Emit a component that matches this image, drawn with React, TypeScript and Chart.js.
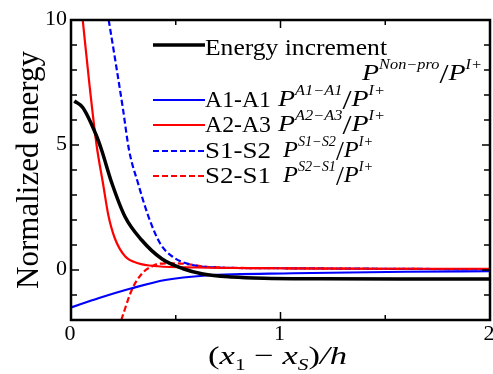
import React, { useEffect, useRef } from "react";
import { Chart, registerables } from "chart.js";

Chart.register(...registerables);

// ---- data ----
const energyX = [0.016, 0.056, 0.12, 0.146, 0.194, 0.258, 0.337, 0.433, 0.535, 0.63, 0.77, 0.92, 1.2, 1.6, 2.0];
const energyY = [6.76, 6.5, 5.4, 4.8, 3.5, 2.13, 1.2, 0.45, 0.05, -0.16, -0.28, -0.33, -0.35, -0.36, -0.36];

const a1a1X = [0.0, 0.134, 0.29, 0.45, 0.645, 1.06, 1.6, 2.0];
const a1a1Y = [-1.5, -1.12, -0.73, -0.4, -0.22, -0.13, -0.07, -0.05];

const a2a3X = [0.056, 0.087, 0.122, 0.154, 0.178, 0.21, 0.258, 0.32, 0.415, 0.6, 1.0, 1.5, 2.0];
const a2a3Y = [10, 7.5, 5.0, 3.4, 2.2, 1.25, 0.55, 0.27, 0.15, 0.1, 0.07, 0.05, 0.05];

const s1s2X = [0.18, 0.215, 0.247, 0.277, 0.32, 0.37, 0.425, 0.485, 0.58, 0.7, 1.0, 2.0];
const s1s2Y = [10, 8.2, 6.5, 4.8, 3.47, 2.13, 1.07, 0.53, 0.2, 0.1, 0.07, 0.03];

const s2s1X = [0.24, 0.29, 0.34, 0.39, 0.42, 0.5, 0.66, 1.0, 2.0];
const s2s1Y = [-2, -0.8, -0.13, 0.16, 0.25, 0.27, 0.12, 0.07, 0.03];

const seriesNames = ["Energy increment", "A1-A1", "A2-A3", "S1-S2", "S2-S1"];
const seriesSups = ["Non\u2212pro", "A1\u2212A1", "A2\u2212A3", "S1\u2212S2", "S2\u2212S1"];
const seriesColors = ["#000000", "#0000ff", "#ff0000", "#0000ff", "#ff0000"];
const seriesDashed = [false, false, false, true, true];

const xTicks = [0, 0.5, 1, 1.5, 2];
const xTickLabels = [0, 1, 2];
const yTicks = [-2, -1, 0, 1, 2, 3, 4, 5, 6, 7, 8, 9, 10];
const yTickLabels = [0, 5, 10];

const SERIF = '"Liberation Serif"';

function pts(xs: number[], ys: number[]) {
  return xs.map((x, i) => ({ x, y: ys[i] }));
}

type Piece = { t: string; font: string; dy?: number };

function drawRun(ctx: CanvasRenderingContext2D, pieces: Piece[], x: number, y: number, targetW?: number) {
  const widths = pieces.map((p) => {
    ctx.font = p.font;
    return ctx.measureText(p.t).width;
  });
  const total = widths.reduce((a, b) => a + b, 0);
  const sx = targetW ? targetW / total : 1;
  ctx.save();
  ctx.translate(x, y);
  ctx.scale(sx, 1);
  ctx.textAlign = "left";
  ctx.textBaseline = "alphabetic";
  let cx = 0;
  pieces.forEach((p, i) => {
    ctx.font = p.font;
    ctx.fillText(p.t, cx, p.dy || 0);
    cx += widths[i];
  });
  ctx.restore();
}

const decorPlugin = {
  id: "decor",
  afterDatasetsDraw(chart: any) {
    const ctx: CanvasRenderingContext2D = chart.ctx;
    const xs = chart.scales.x;
    const ys = chart.scales.y;
    const { left, right, top, bottom } = chart.chartArea;
    ctx.save();
    ctx.fillStyle = "#000";
    ctx.strokeStyle = "#000";

    // frame
    ctx.lineWidth = 2.5;
    ctx.strokeRect(left, top, right - left, bottom - top);

    // ticks
    ctx.lineWidth = 1.5;
    xTicks.forEach((v) => {
      const px = xs.getPixelForValue(v);
      const len = xTickLabels.includes(v) ? 8 : 5;
      ctx.beginPath();
      ctx.moveTo(px, bottom);
      ctx.lineTo(px, bottom - len);
      ctx.moveTo(px, top);
      ctx.lineTo(px, top + len);
      ctx.stroke();
    });
    yTicks.forEach((v) => {
      const py = ys.getPixelForValue(v);
      const len = yTickLabels.includes(v) ? 8 : 6;
      ctx.beginPath();
      ctx.moveTo(left, py);
      ctx.lineTo(left + len, py);
      ctx.moveTo(right, py);
      ctx.lineTo(right - len, py);
      ctx.stroke();
    });

    // tick labels
    ctx.font = `22px ${SERIF}`;
    ctx.textAlign = "center";
    ctx.textBaseline = "top";
    xTickLabels.forEach((v) => {
      ctx.fillText(String(v), xs.getPixelForValue(v) - 1, bottom + 3);
    });
    ctx.textAlign = "right";
    ctx.textBaseline = "middle";
    yTickLabels.forEach((v) => {
      ctx.fillText(String(v), left - 4, ys.getPixelForValue(v) - 1);
    });

    // y title
    ctx.save();
    ctx.translate(38, 170);
    ctx.rotate(-Math.PI / 2);
    ctx.font = `31px ${SERIF}`;
    ctx.textAlign = "center";
    ctx.textBaseline = "alphabetic";
    ctx.fillText("Normalized energy", 0, 0);
    ctx.restore();

    // x title (x1 - xS)/h
    const big = `26px ${SERIF}`;
    const bigI = `italic 26px ${SERIF}`;
    const sub = `16px ${SERIF}`;
    const subI = `italic 16px ${SERIF}`;
    drawRun(
      ctx,
      [
        { t: "(", font: big },
        { t: "x", font: bigI },
        { t: "1", font: sub, dy: 6 },
        { t: " \u2212 ", font: big },
        { t: "x", font: bigI },
        { t: "S", font: subI, dy: 6 },
        { t: ")", font: big },
        { t: "/", font: bigI },
        { t: "h", font: bigI },
      ],
      208,
      364,
      139
    );

    // legend
    const lineX0 = 153;
    const lineX1 = 205;
    const lineYs = [45, 100, 125, 151, 176];
    const baseYs = [55, 107, 132, 158, 183];
    seriesNames.forEach((name, i) => {
      ctx.strokeStyle = seriesColors[i];
      ctx.lineWidth = i === 0 ? 3.5 : 2.2;
      ctx.setLineDash(seriesDashed[i] ? [6, 3] : []);
      ctx.beginPath();
      ctx.moveTo(lineX0, lineYs[i]);
      ctx.lineTo(lineX1, lineYs[i]);
      ctx.stroke();
      ctx.setLineDash([]);
      ctx.fillStyle = "#000";
      drawRun(ctx, [{ t: name, font: `24px ${SERIF}` }], 205, baseYs[i], i === 0 ? 182 : 66);
    });

    const P = `italic 24px ${SERIF}`;
    const S = `italic 14px ${SERIF}`;
    const SL = `28px ${SERIF}`;
    const fracPieces = (sup: string): Piece[] => [
      { t: "P", font: P },
      { t: sup, font: S, dy: -11 },
      { t: "/", font: SL, dy: 3 },
      { t: "P", font: P },
      { t: "I+", font: S, dy: -11 },
    ];
    drawRun(ctx, fracPieces(seriesSups[0]), 362, 80, 120);
    const fracX = [0, 278, 278, 283, 283];
    const fracW = [0, 107, 107, 90, 90];
    for (let i = 1; i < 5; i++) {
      drawRun(ctx, fracPieces(seriesSups[i]), fracX[i], baseYs[i] - 1, fracW[i]);
    }

    ctx.restore();
  },
};

export default function App() {
  const ref = useRef<HTMLCanvasElement | null>(null);
  useEffect(() => {
    if (!ref.current) return;
    const series = [
      pts(energyX, energyY),
      pts(a1a1X, a1a1Y),
      pts(a2a3X, a2a3Y),
      pts(s1s2X, s1s2Y),
      pts(s2s1X, s2s1Y),
    ];
    const chart = new Chart(ref.current, {
      type: "line",
      data: {
        datasets: series.map((d, i) => ({
          label: seriesNames[i],
          data: d,
          borderColor: seriesColors[i],
          borderWidth: i === 0 ? 3.5 : 2.2,
          borderDash: seriesDashed[i] ? [6, 3] : [],
          pointRadius: 0,
          fill: false,
          cubicInterpolationMode: "monotone" as const,
        })),
      },
      options: {
        animation: false,
        responsive: false,
        devicePixelRatio: 1,
        layout: { padding: { left: 71, right: 3, top: 20, bottom: 54 } },
        plugins: { legend: { display: false }, tooltip: { enabled: false } },
        scales: {
          x: { type: "linear", min: 0, max: 2, display: false },
          y: { type: "linear", min: -2, max: 10, display: false },
        },
      },
      plugins: [decorPlugin],
    });
    return () => {
      chart.destroy();
    };
  }, []);
  return (
    <div style={{ position: "fixed", left: 0, top: 0, width: 493, height: 374, background: "#fff" }}>
      <canvas ref={ref} width={493} height={374} style={{ width: 493, height: 374, display: "block" }} />
    </div>
  );
}
